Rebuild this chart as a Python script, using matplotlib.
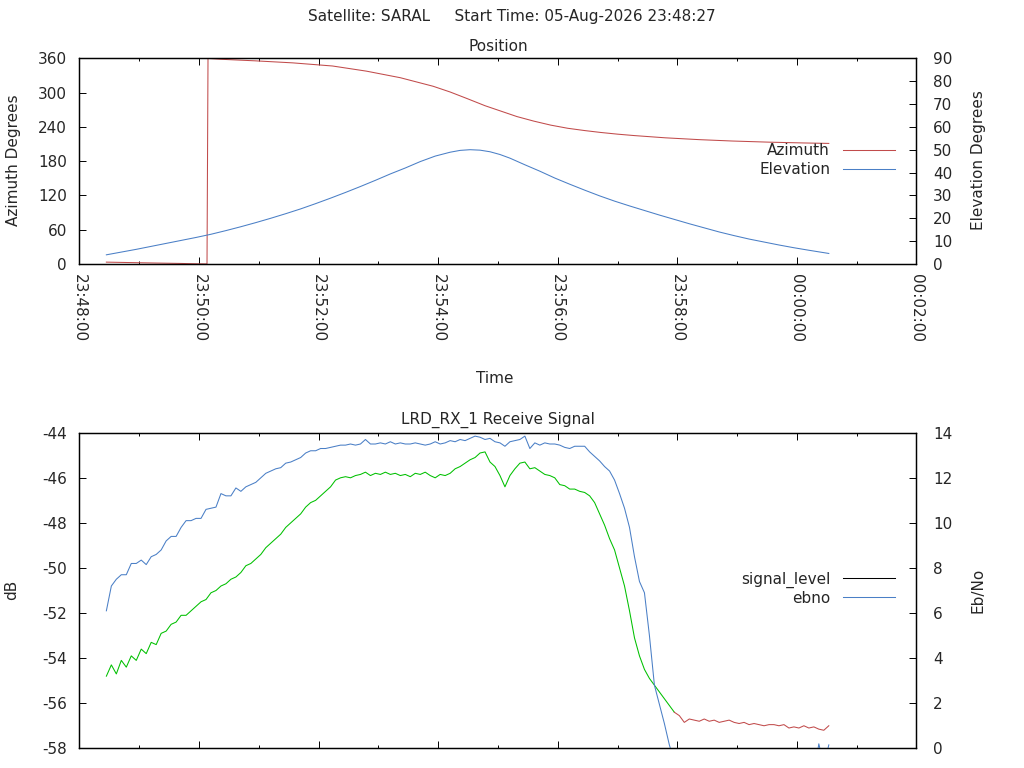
import datetime as dt

import matplotlib
matplotlib.use("Agg")
import matplotlib.pyplot as plt
import matplotlib.dates as mdates
from matplotlib.lines import Line2D

plt.rcParams['font.family'] = ['DejaVu Sans']
plt.rcParams['font.size'] = 11
plt.rcParams['axes.linewidth'] = 0.9
plt.rcParams['axes.unicode_minus'] = False
plt.rcParams['text.color'] = '#262626'
plt.rcParams['xtick.labelcolor'] = '#262626'
plt.rcParams['ytick.labelcolor'] = '#262626'

# pass info
satellite = "SARAL"
start = dt.datetime(2026, 8, 5, 23, 48, 27)
x_start = dt.datetime(2026, 8, 5, 23, 48, 0)
x_end = dt.datetime(2026, 8, 6, 0, 2, 0)

# position data (seconds after start)
az_offset = [0, 25, 50, 75, 87, 101, 101.5, 102, 115, 150, 187, 227, 261, 295,
             328, 345, 362, 380, 396, 412, 429, 446, 463, 480, 496, 513, 530,
             561, 595, 628, 665, 700, 725]
azimuth = [3.2, 2.4, 1.6, 0.9, 0.4, 0.0, 179.0, 359.8, 358.3, 355.5, 352.0,
           346.5, 337.5, 326.0, 311.0, 301.0, 289.5, 277.0, 267.5, 258.0,
           250.0, 243.0, 237.5, 233.5, 230.2, 227.2, 224.7, 220.8, 217.6,
           215.2, 213.2, 211.8, 211.0]

el_offset = [0, 15, 30, 45, 60, 75, 90, 105, 120, 135, 150, 165, 180, 195,
             210, 225, 240, 255, 270, 285, 300, 315, 330, 345, 355, 365, 375,
             385, 395, 405, 420, 435, 450, 465, 480, 495, 510, 525, 540, 555,
             570, 585, 600, 615, 630, 645, 660, 675, 690, 705, 725]
elevation = [4.0, 5.2, 6.4, 7.7, 9.0, 10.3, 11.6, 13.0, 14.6, 16.3, 18.1,
             20.0, 22.0, 24.1, 26.4, 28.8, 31.3, 33.9, 36.6, 39.4, 42.0, 44.8,
             47.2, 48.9, 49.7, 50.0, 49.8, 49.1, 47.9, 46.3, 43.4, 40.6, 37.6,
             34.9, 32.3, 29.8, 27.5, 25.4, 23.4, 21.4, 19.5, 17.6, 15.8, 14.0,
             12.4, 10.9, 9.6, 8.3, 7.1, 6.0, 4.6]

# receive signal, one sample every 5 s after start
sig_step = 5
signal_level = [
    -54.8, -54.3, -54.7, -54.1, -54.4, -53.9, -54.1, -53.6, -53.8, -53.3,
    -53.4, -52.9, -52.8, -52.5, -52.4, -52.1, -52.1, -51.9, -51.7, -51.5,
    -51.4, -51.1, -51.0, -50.8, -50.7, -50.5, -50.4, -50.2, -49.9, -49.8,
    -49.6, -49.4, -49.1, -48.9, -48.7, -48.5, -48.2, -48.0, -47.8, -47.6,
    -47.3, -47.1, -47.0, -46.8, -46.6, -46.4, -46.1, -46.0, -45.95, -46.0,
    -45.9, -45.85, -45.75, -45.9, -45.8, -45.85, -45.75, -45.85, -45.8, -45.9,
    -45.85, -45.95, -45.8, -45.85, -45.75, -45.9, -46.0, -45.85, -45.9, -45.8,
    -45.6, -45.5, -45.35, -45.2, -45.1, -44.9, -44.85, -45.3, -45.5, -45.9,
    -46.4, -45.9, -45.6, -45.35, -45.3, -45.6, -45.55, -45.7, -45.85, -45.9,
    -46.0, -46.3, -46.35, -46.5, -46.5, -46.6, -46.65, -46.8, -47.1, -47.6,
    -48.1, -48.7, -49.2, -50.0, -50.8, -51.9, -53.1, -53.9, -54.5, -54.9,
    -55.2, -55.5, -55.8, -56.1, -56.4, -56.55, -56.85, -56.7, -56.75, -56.8,
    -56.7, -56.8, -56.75, -56.85, -56.8, -56.75, -56.85, -56.9, -56.85, -56.95,
    -56.9, -56.95, -57.0, -56.95, -56.95, -57.0, -56.95, -57.1, -57.05, -57.1,
    -57.0, -57.1, -57.05, -57.15, -57.2, -57.0,
]
ebno = [
    6.1, 7.2, 7.5, 7.7, 7.7, 8.2, 8.2, 8.35, 8.15, 8.5,
    8.6, 8.8, 9.2, 9.4, 9.4, 9.8, 10.1, 10.1, 10.2, 10.2,
    10.6, 10.65, 10.7, 11.3, 11.2, 11.2, 11.55, 11.4, 11.6, 11.7,
    11.8, 12.0, 12.2, 12.3, 12.4, 12.45, 12.65, 12.7, 12.8, 12.9,
    13.1, 13.2, 13.2, 13.3, 13.3, 13.35, 13.4, 13.45, 13.45, 13.5,
    13.45, 13.5, 13.7, 13.5, 13.5, 13.55, 13.5, 13.6, 13.5, 13.55,
    13.5, 13.5, 13.55, 13.5, 13.45, 13.5, 13.6, 13.5, 13.55, 13.65,
    13.6, 13.7, 13.65, 13.75, 13.85, 13.8, 13.7, 13.75, 13.6, 13.55,
    13.4, 13.6, 13.65, 13.7, 13.85, 13.3, 13.55, 13.45, 13.55, 13.5,
    13.5, 13.45, 13.35, 13.3, 13.4, 13.4, 13.4, 13.15, 12.95, 12.75,
    12.5, 12.3, 11.9, 11.3, 10.65, 9.8, 8.5, 7.4, 6.9, 5.0,
    2.8, 1.95, 1.1, 0.15, -0.6, -1.2, -1.6, -1.9, -2.2, -1.8,
    -2.4, -2.1, -2.6, -2.3, -2.0, -2.5, -2.2, -2.7, -2.4, -2.1,
    -2.6, -2.3, -1.9, -2.2, -1.8, -2.1, -1.7, -1.5, -1.9, -1.4,
    -1.6, -1.3, -1.2, 0.2, -0.8, 0.15,
]
locked_until = 114  # sample index where the lock is lost

red = '#c14b4b'
blue = '#4a7fc6'
green = '#00c000'
line_w = 0.75


def times(offsets):
    return [start + dt.timedelta(seconds=s) for s in offsets]


def style_time_axis(ax, labels):
    ax.set_xlim(x_start, x_end)
    ax.xaxis.set_major_locator(mdates.MinuteLocator(byminute=range(0, 60, 2)))
    ax.xaxis.set_minor_locator(mdates.MinuteLocator())
    ax.xaxis.set_major_formatter(mdates.DateFormatter('%H:%M:%S'))
    ax.tick_params(axis='x', which='both', direction='in', top=True,
                   labelbottom=labels, width=0.7, pad=7.5)
    ax.tick_params(axis='x', which='major', length=4.8)
    ax.tick_params(axis='x', which='minor', length=2.5)
    for t in ax.get_xticklabels():
        t.set_rotation(270)


fig = plt.figure(figsize=(10.24, 7.68), dpi=100)
fig.text(0.5, 1 - 17 / 768,
         "Satellite: " + satellite + "     Start Time: " + start.strftime('%d-%b-%Y %H:%M:%S'),
         ha='center', va='center')

# ---- Position plot
ax1 = fig.add_axes([0.0776, 0.6563, 0.8174, 0.2678])
ax1b = ax1.twinx()
la, = ax1.plot(times(az_offset), azimuth, color=red, lw=line_w, label='Azimuth')
le, = ax1b.plot(times(el_offset), elevation, color=blue, lw=line_w, label='Elevation')
ax1.set_ylim(0, 360)
ax1.set_yticks(range(0, 361, 60))
ax1b.set_ylim(0, 90)
ax1b.set_yticks(range(0, 91, 10))
ax1.tick_params(axis='y', direction='in', length=4.8, width=0.7, pad=9)
ax1b.tick_params(axis='y', direction='in', length=4.8, width=0.7, pad=12)
style_time_axis(ax1, True)
ax1.text(0.5, 1 + 12 / 205.7, 'Position', transform=ax1.transAxes,
         ha='center', va='center')
fig.text(14 / 1024, 1 - 160 / 768, 'Azimuth Degrees', rotation=90,
         ha='center', va='center')
fig.text(978 / 1024, 1 - 160 / 768, 'Elevation Degrees', rotation=90,
         ha='center', va='center')
fig.text(495 / 1024, 1 - 379 / 768, 'Time', ha='center', va='center')
ax1b.legend([la, le], ['Azimuth', 'Elevation'], loc='center right',
            bbox_to_anchor=(895 / 1024, 1 - 160 / 768), bbox_transform=fig.transFigure,
            frameon=False, markerfirst=False, handlelength=3.4, handletextpad=0.85,
            labelspacing=0.25, borderpad=0, borderaxespad=0)

# ---- Receive signal plot
ax2 = fig.add_axes([0.0776, 0.02565, 0.8174, 0.4109])
ax2b = ax2.twinx()
sig_t = times([i * sig_step for i in range(len(signal_level))])
ax2.plot(sig_t[:locked_until + 1], signal_level[:locked_until + 1], color=green,
         lw=line_w)
ax2.plot(sig_t[locked_until:], signal_level[locked_until:], color=red, lw=line_w)
ax2b.plot(sig_t, ebno, color=blue, lw=line_w)
ax2.set_ylim(-58, -44)
ax2.set_yticks(range(-58, -43, 2))
ax2b.set_ylim(0, 14)
ax2b.set_yticks(range(0, 15, 2))
ax2.tick_params(axis='y', direction='in', length=4.8, width=0.7, pad=9)
ax2b.tick_params(axis='y', direction='in', length=4.8, width=0.7, pad=12)
style_time_axis(ax2, False)
ax2.text(0.5, 1 + 12.5 / 315.6, 'LRD_RX_1 Receive Signal', transform=ax2.transAxes,
         ha='center', va='center')
fig.text(12 / 1024, 1 - 590 / 768, 'dB', rotation=90, ha='center', va='center')
fig.text(978 / 1024, 1 - 590 / 768, 'Eb/No', rotation=90, ha='center', va='center')
ax2b.legend([Line2D([], [], color='black', lw=line_w),
             Line2D([], [], color=blue, lw=line_w)],
            ['signal_level', 'ebno'], loc='center right',
            bbox_to_anchor=(895 / 1024, 1 - 588.5 / 768), bbox_transform=fig.transFigure,
            frameon=False, markerfirst=False, handlelength=3.4, handletextpad=0.85,
            labelspacing=0.2, borderpad=0, borderaxespad=0)

fig.savefig('out.png', dpi=100)
